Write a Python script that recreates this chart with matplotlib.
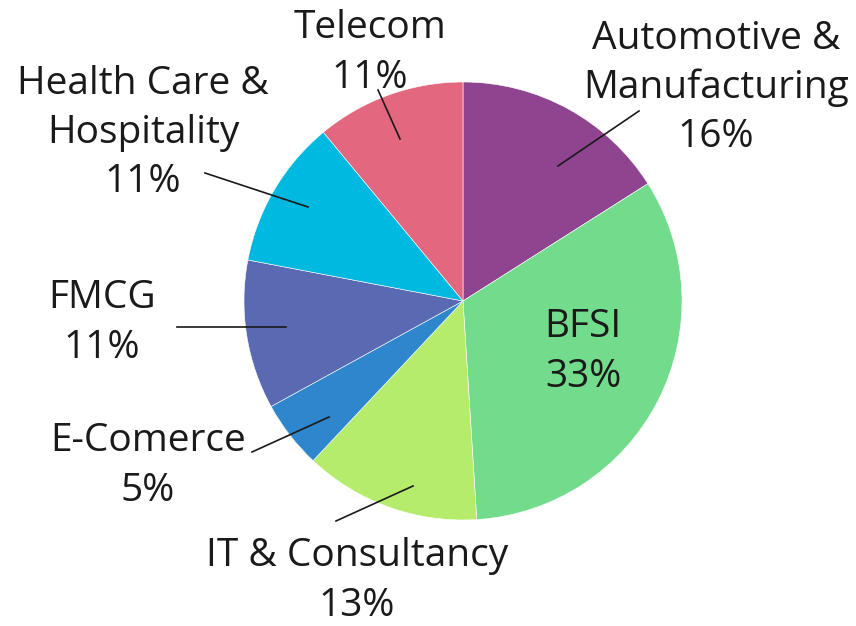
import matplotlib.pyplot as plt

plt.rcParams['font.family'] = ['Open Sans', 'DejaVu Sans']

# data
sectors = ['Automotive &\nManufacturing', 'BFSI', 'IT & Consultancy', 'E-Comerce',
           'FMCG', 'Health Care &\nHospitality', 'Telecom']
shares = [16, 33, 13, 5, 11, 11, 11]
colors = ['#8E448F', '#72DC8C', '#B5EC6C', '#2E87CD', '#5A6AB2', '#00B9E0', '#E2677F']

# layout (pixel coords, y from top of image)
H = 626
center = (463, 301)
radius = 219
label_pos = [(716, 88), (583, 352), (357, 581), (148, 466), (102, 323), (143, 133), (370, 53)]
leader = [((639, 111), (558, 166)), None, ((336, 521), (413, 486)), ((252, 452), (329, 417)),
          ((177, 327), (286, 327)), ((205, 173), (308, 207)), ((378, 90), (400, 139))]

fig = plt.figure(figsize=(8.56, 6.26), dpi=100)
ax = fig.add_axes([0, 0, 1, 1])
ax.axis('off')

ax.pie(shares, colors=colors, startangle=90, counterclock=False,
       center=(center[0], H - center[1]), radius=radius,
       wedgeprops=dict(edgecolor='white', linewidth=0.4))
ax.set_xlim(0, 856)
ax.set_ylim(0, H)
ax.set_aspect('equal')

for name, val, (x, y), ln in zip(sectors, shares, label_pos, leader):
    ax.text(x, H - y, f'{name}\n{val}%', ha='center', va='center',
            fontsize=28, color='#1a1a1a', linespacing=1.38)
    if ln is not None:
        (x0, y0), (x1, y1) = ln
        ax.plot([x0, x1], [H - y0, H - y1], color='#1a1a1a', lw=1.2)

fig.savefig('out.png', dpi=100)
